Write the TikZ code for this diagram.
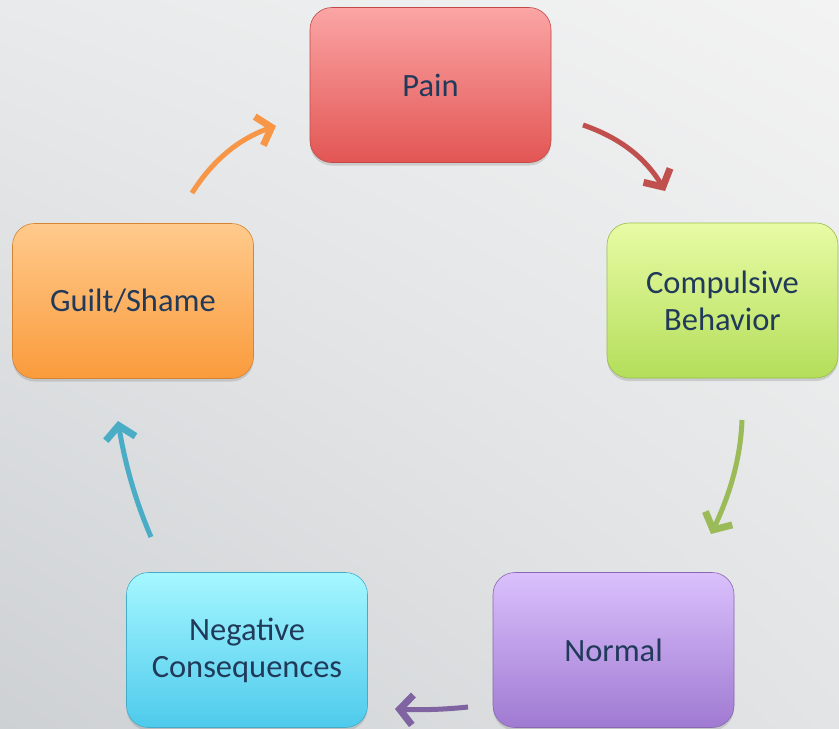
\documentclass[tikz,border=0pt]{standalone}
\usepackage{fontspec}
\setmainfont{Carlito}
\usetikzlibrary{arrows.meta,shadows,shadings,bending}
\definecolor{txt}{RGB}{33,58,90}
\definecolor{bgtl}{RGB}{232,234,235}
\definecolor{bgtr}{RGB}{243,243,243}
\definecolor{bgbl}{RGB}{206,209,212}
\definecolor{bgbr}{RGB}{226,228,229}
\definecolor{redT}{RGB}{251,165,165}\definecolor{redB}{RGB}{226,86,84}\definecolor{redA}{RGB}{192,80,77}
\definecolor{grnT}{RGB}{232,251,165}\definecolor{grnB}{RGB}{180,222,90}\definecolor{grnA}{RGB}{155,187,89}
\definecolor{purT}{RGB}{218,192,252}\definecolor{purB}{RGB}{160,122,210}\definecolor{purA}{RGB}{128,100,162}
\definecolor{cyaT}{RGB}{165,247,255}\definecolor{cyaB}{RGB}{78,202,236}\definecolor{cyaA}{RGB}{75,172,198}
\definecolor{oraT}{RGB}{255,202,140}\definecolor{oraB}{RGB}{250,155,60}\definecolor{oraA}{RGB}{247,150,70}
\tikzset{
  box/.style={rounded corners=22pt, minimum width=241pt, minimum height=155pt,
    inner sep=0pt, align=center, text=txt,
    font=\fontsize{32.5}{37}\selectfont,
    drop shadow={shadow xshift=0pt, shadow yshift=-3pt, opacity=0.28}},
  cyc/.style={line width=5pt, -{Straight Barb[length=13pt,width=30pt,line width=7pt]}}
}
\begin{document}
\begin{tikzpicture}[x=1pt,y=-1pt]
\useasboundingbox (0,0) rectangle (839,729);
\shade[upper left=bgtl, upper right=bgtr, lower left=bgbl, lower right=bgbr] (0,0) rectangle (839,729);
\node[box, top color=redT, bottom color=redB, draw=redB!85!black, line width=0.6pt] (pain) at (430.5,85) {Pain};
\node[box, minimum width=231pt, top color=grnT, bottom color=grnB, draw=grnB!85!black, line width=0.6pt] (comp) at (722.5,300.5) {Compulsive\\Behavior};
\node[box, top color=purT, bottom color=purB, draw=purB!85!black, line width=0.6pt] (norm) at (613.5,650) {Normal};
\node[box, top color=cyaT, bottom color=cyaB, draw=cyaB!85!black, line width=0.6pt] (neg) at (247,650) {Negative\\Consequences};
\node[box, top color=oraT, bottom color=oraB, draw=oraB!85!black, line width=0.6pt] (guilt) at (133,301) {Guilt/Shame};
\coordinate (r1) at (583,125); \coordinate (r2) at (665,191);
\coordinate (g1) at (742,420); \coordinate (g2) at (711,534);
\coordinate (p1) at (468,707); \coordinate (p2) at (395,709);
\coordinate (t1) at (151,537); \coordinate (t2) at (118,421);
\coordinate (o1) at (192,193); \coordinate (o2) at (276,126);
\draw[cyc, redA] (r1) .. controls (621.7,138.3) and (649,160.3) .. (r2);
\draw[cyc, grnA] (g1) .. controls (740.7,457.3) and (730.3,495.3) .. (g2);
\draw[cyc, purA] (p1) .. controls (442.7,709.7) and (418.3,710.3) .. (p2);
\draw[cyc, cyaA] (t1) .. controls (135,499.7) and (124,461) .. (t2);
\draw[cyc, oraA] (o1) .. controls (214,158.3) and (242,136) .. (o2);
\end{tikzpicture}
\end{document}
